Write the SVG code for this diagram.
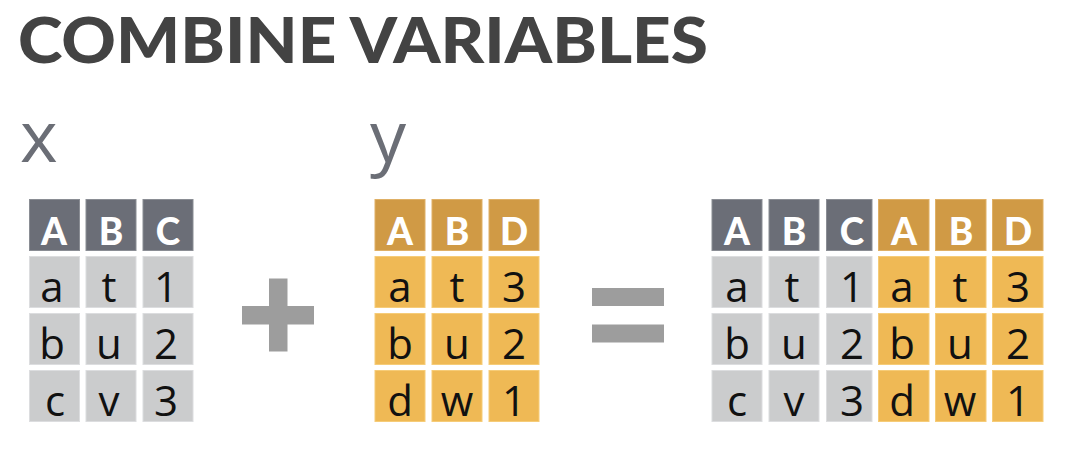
<svg xmlns="http://www.w3.org/2000/svg" width="1078" height="450" viewBox="0 0 1078 450">
<style>
.title{font-family:Lato,"Open Sans","Liberation Sans",sans-serif;font-weight:900;font-size:63px;fill:#434343}
.lbl{font-family:"Open Sans",Lato,"Liberation Sans",sans-serif;font-weight:400;font-size:72px;fill:#6b6e76}
.gh{fill:#6b6e77;stroke:#8a8d94;stroke-width:1}
.gb{fill:#cbcccd;stroke:#dcdddf;stroke-width:1}
.yh{fill:#d09a45;stroke:#dfb066;stroke-width:1}
.yb{fill:#efb955;stroke:#f6cc78;stroke-width:1}
.ht{font-family:Lato,"Open Sans","Liberation Sans",sans-serif;font-weight:900;font-size:37px;fill:#ffffff;text-anchor:middle}
.bt{font-family:"Open Sans",Lato,"Liberation Sans",sans-serif;font-size:42px;fill:#111111;text-anchor:middle}
.op{fill:#9d9d9d}
</style>
<rect width="1078" height="450" fill="#ffffff"/>
<text class="title" x="18" y="63" textLength="690" lengthAdjust="spacingAndGlyphs">COMBINE VARIABLES</text>

<g id="table-x">
<text class="lbl" x="20" y="162">x</text>
<rect class="gh" x="29.5" y="199.5" width="50" height="51"/>
<rect class="gh" x="86" y="199.5" width="50" height="51"/>
<rect class="gh" x="143" y="199.5" width="50" height="51"/>
<text class="ht" x="54" y="245">A</text><text class="ht" x="111" y="245">B</text><text class="ht" x="168" y="245">C</text>
<rect class="gb" x="29.5" y="256.5" width="50" height="51"/>
<rect class="gb" x="86" y="256.5" width="50" height="51"/>
<rect class="gb" x="143" y="256.5" width="50" height="51"/>
<rect class="gb" x="29.5" y="313.5" width="50" height="51"/>
<rect class="gb" x="86" y="313.5" width="50" height="51"/>
<rect class="gb" x="143" y="313.5" width="50" height="51"/>
<rect class="gb" x="29.5" y="370.5" width="50" height="51"/>
<rect class="gb" x="86" y="370.5" width="50" height="51"/>
<rect class="gb" x="143" y="370.5" width="50" height="51"/>
<text class="bt" x="52" y="302">a</text><text class="bt" x="109" y="302">t</text><text class="bt" x="166" y="302">1</text>
<text class="bt" x="52" y="359">b</text><text class="bt" x="109" y="359">u</text><text class="bt" x="166" y="359">2</text>
<text class="bt" x="55" y="416">c</text><text class="bt" x="109" y="416">v</text><text class="bt" x="166" y="416">3</text>
</g>

<g id="plus">
<rect class="op" x="269" y="278.5" width="18.5" height="73"/>
<rect class="op" x="242" y="306" width="72" height="18.5"/>
</g>

<g id="table-y">
<text class="lbl" x="370" y="162">y</text>
<rect class="yh" x="375" y="199.5" width="50" height="51"/>
<rect class="yh" x="432" y="199.5" width="50" height="51"/>
<rect class="yh" x="489" y="199.5" width="50" height="51"/>
<text class="ht" x="400" y="245">A</text><text class="ht" x="457" y="245">B</text><text class="ht" x="514" y="245">D</text>
<rect class="yb" x="375" y="256.5" width="50" height="51"/>
<rect class="yb" x="432" y="256.5" width="50" height="51"/>
<rect class="yb" x="489" y="256.5" width="50" height="51"/>
<rect class="yb" x="375" y="313.5" width="50" height="51"/>
<rect class="yb" x="432" y="313.5" width="50" height="51"/>
<rect class="yb" x="489" y="313.5" width="50" height="51"/>
<rect class="yb" x="375" y="370.5" width="50" height="51"/>
<rect class="yb" x="432" y="370.5" width="50" height="51"/>
<rect class="yb" x="489" y="370.5" width="50" height="51"/>
<text class="bt" x="400" y="302">a</text><text class="bt" x="457" y="302">t</text><text class="bt" x="514" y="302">3</text>
<text class="bt" x="400" y="359">b</text><text class="bt" x="457" y="359">u</text><text class="bt" x="514" y="359">2</text>
<text class="bt" x="400" y="416">d</text><text class="bt" x="457" y="416">w</text><text class="bt" x="514" y="416">1</text>
</g>

<g id="equals">
<rect class="op" x="592" y="288" width="72" height="18"/>
<rect class="op" x="592" y="324.5" width="72" height="18"/>
</g>

<g id="table-result">
<rect class="gh" x="712" y="199.5" width="50" height="51"/>
<rect class="gh" x="769" y="199.5" width="50" height="51"/>
<rect class="gh" x="826.5" y="199.5" width="45.5" height="51"/>
<rect class="yh" x="878.5" y="199.5" width="50.5" height="51"/>
<rect class="yh" x="935.5" y="199.5" width="50.5" height="51"/>
<rect class="yh" x="992.5" y="199.5" width="50.5" height="51"/>
<text class="ht" x="737" y="245">A</text><text class="ht" x="794" y="245">B</text><text class="ht" x="852" y="245">C</text>
<text class="ht" x="904" y="245">A</text><text class="ht" x="961" y="245">B</text><text class="ht" x="1018" y="245">D</text>
<rect class="gb" x="712" y="256.5" width="50" height="51"/>
<rect class="gb" x="769" y="256.5" width="50" height="51"/>
<rect class="gb" x="826.5" y="256.5" width="45.5" height="51"/>
<rect class="yb" x="878.5" y="256.5" width="50.5" height="51"/>
<rect class="yb" x="935.5" y="256.5" width="50.5" height="51"/>
<rect class="yb" x="992.5" y="256.5" width="50.5" height="51"/>
<rect class="gb" x="712" y="313.5" width="50" height="51"/>
<rect class="gb" x="769" y="313.5" width="50" height="51"/>
<rect class="gb" x="826.5" y="313.5" width="45.5" height="51"/>
<rect class="yb" x="878.5" y="313.5" width="50.5" height="51"/>
<rect class="yb" x="935.5" y="313.5" width="50.5" height="51"/>
<rect class="yb" x="992.5" y="313.5" width="50.5" height="51"/>
<rect class="gb" x="712" y="370.5" width="50" height="51"/>
<rect class="gb" x="769" y="370.5" width="50" height="51"/>
<rect class="gb" x="826.5" y="370.5" width="45.5" height="51"/>
<rect class="yb" x="878.5" y="370.5" width="50.5" height="51"/>
<rect class="yb" x="935.5" y="370.5" width="50.5" height="51"/>
<rect class="yb" x="992.5" y="370.5" width="50.5" height="51"/>
<text class="bt" x="737" y="302">a</text><text class="bt" x="792" y="302">t</text><text class="bt" x="852" y="302">1</text>
<text class="bt" x="902" y="302">a</text><text class="bt" x="960" y="302">t</text><text class="bt" x="1018" y="302">3</text>
<text class="bt" x="737" y="359">b</text><text class="bt" x="794" y="359">u</text><text class="bt" x="852" y="359">2</text>
<text class="bt" x="902" y="359">b</text><text class="bt" x="960" y="359">u</text><text class="bt" x="1018" y="359">2</text>
<text class="bt" x="737" y="416">c</text><text class="bt" x="794" y="416">v</text><text class="bt" x="852" y="416">3</text>
<text class="bt" x="902" y="416">d</text><text class="bt" x="960" y="416">w</text><text class="bt" x="1018" y="416">1</text>
</g>
</svg>
